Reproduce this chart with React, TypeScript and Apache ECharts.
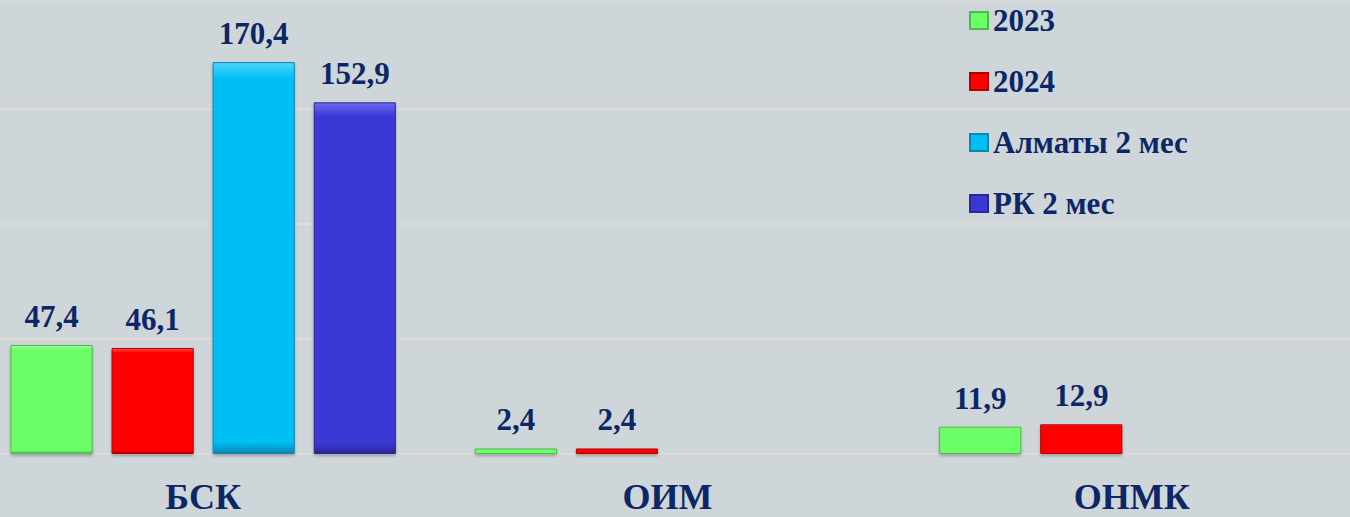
import React, { useEffect, useRef } from "react";
import * as echarts from "echarts";

const categories = ["БСК", "ОИМ", "ОНМК"];
const seriesNames = ["2023", "2024", "Алматы 2 мес", "РК 2 мес"];
const values2023 = [47.4, 2.4, 11.9];
const values2024 = [46.1, 2.4, 12.9];
const valuesAlmaty = [170.4, null, null];
const valuesRK = [152.9, null, null];

const colors = ["#6cff6a", "#ff0000", "#00bff5", "#3b37d6"];
const light = ["#9dff9b", "#ff4d4d", "#4dd6ff", "#6c69ee"];
const borders = ["#4fb84c", "#b00000", "#0a86b0", "#2a2796"];
const textColor = "#0c2666";
const font = "'Liberation Serif', 'Times New Roman', serif";

export default function App() {
  const ref = useRef<HTMLDivElement>(null);
  useEffect(() => {
    document.body.style.margin = "0";
    const chart = echarts.init(ref.current!, null, { renderer: "svg" });
    const all = [values2023, values2024, valuesAlmaty, valuesRK];
    chart.setOption({
      animation: false,
      backgroundColor: "#cfd6d9",
      grid: { left: 0, right: 0, top: 0, bottom: 63, containLabel: false },
      legend: {
        orient: "vertical",
        left: 993,
        top: 0,
        itemWidth: 18,
        itemHeight: 17,
        itemGap: 30,
        icon: "rect",
        textStyle: { color: textColor, fontFamily: font, fontWeight: "bold", fontSize: 31 },
        data: seriesNames,
      },
      xAxis: {
        type: "category",
        data: categories,
        axisLine: { show: false },
        axisTick: { show: false },
        axisLabel: { color: textColor, fontFamily: font, fontWeight: "bold", fontSize: 36, lineHeight: 38, margin: 24 },
      },
      yAxis: {
        type: "value",
        min: 0,
        max: 197.4,
        interval: 50,
        axisLabel: { show: false },
        axisLine: { show: false },
        axisTick: { show: false },
        splitLine: { lineStyle: { color: "#dedad9", width: 2 } },
      },
      series: seriesNames.map((name, i) => ({
        name,
        type: "bar",
        data: all[i],
        barGap: "23%",
        barCategoryGap: "17%",
        itemStyle: {
          color: new echarts.graphic.LinearGradient(0, 0, 0, 1, [
            { offset: 0, color: light[i] },
            { offset: 0.04, color: colors[i] },
            { offset: 0.97, color: colors[i] },
            { offset: 1, color: borders[i] },
          ]),
          borderColor: borders[i],
          borderWidth: 1,
          shadowColor: "rgba(0,0,0,0.25)",
          shadowBlur: 3,
          shadowOffsetY: 2,
        },
        label: {
          show: true,
          position: "top",
          distance: 13,
          color: textColor,
          fontFamily: font,
          fontWeight: "bold",
          fontSize: 31,
          formatter: (p: any) => String(p.value).replace(".", ","),
        },
      })),
    });
    return () => chart.dispose();
  }, []);
  return (
    <div style={{ position: "relative", width: 1350, height: 517, overflow: "hidden" }}>
      <div ref={ref} style={{ position: "absolute", left: -29, top: 0, width: 1393, height: 517 }} />
    </div>
  );
}
